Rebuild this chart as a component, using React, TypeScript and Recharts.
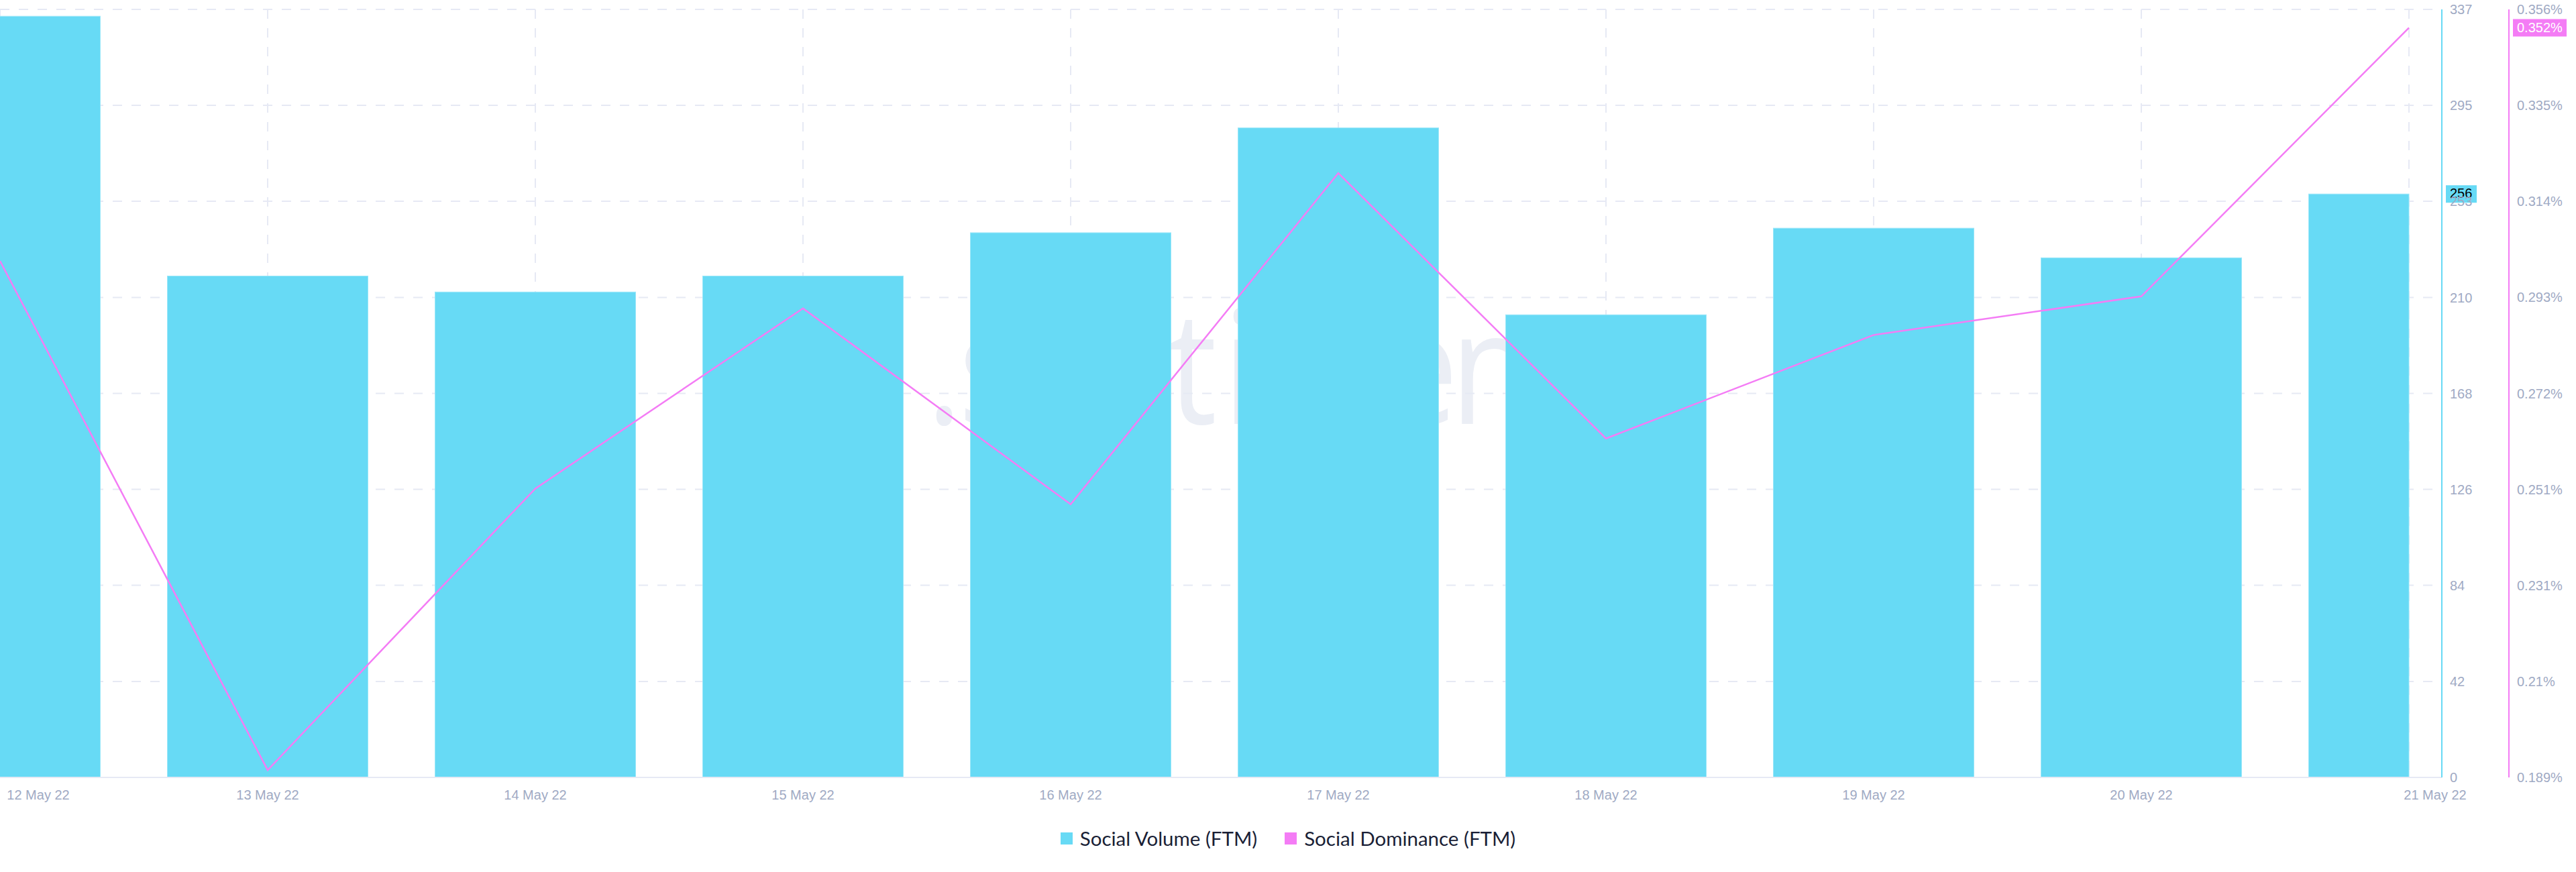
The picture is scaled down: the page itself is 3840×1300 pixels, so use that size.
import {
  Bar,
  CartesianGrid,
  ComposedChart,
  Legend,
  Line,
  ReferenceLine,
  XAxis,
  YAxis,
} from "recharts";

const dates = [
  "12 May 22",
  "13 May 22",
  "14 May 22",
  "15 May 22",
  "16 May 22",
  "17 May 22",
  "18 May 22",
  "19 May 22",
  "20 May 22",
  "21 May 22",
];
const socialVolume = [334, 220, 213, 220, 239, 285, 203, 241, 228, 256];
const socialDominance = [
  0.3013, 0.1906, 0.2518, 0.291, 0.2484, 0.3204, 0.2627, 0.2852, 0.2936, 0.352,
];

const volumeTicks = [0, 42.1, 84.3, 126.4, 168.5, 210.6, 252.8, 294.9, 337];
const volumeLabels = ["0", "42", "84", "126", "168", "210", "253", "295", "337"];
const dominanceTicks = [
  0.189, 0.2099, 0.2308, 0.2516, 0.2725, 0.2934, 0.3143, 0.3351, 0.356,
];
const dominanceLabels = [
  "0.189%", "0.21%", "0.231%", "0.251%", "0.272%", "0.293%", "0.314%", "0.335%", "0.356%",
];

const CYAN = "#67daf5";
const PINK = "#f47cf5";
const GRID = "#e6e9f4";
const MUTED = "#9faac4";
const AXIS_FONT = "'Liberation Sans', Arial, sans-serif";

const VOLUME_AXIS = "axis1";
const DOMINANCE_AXIS = "axis2";

// watermark logo is narrower than Open Sans, so each glyph gets its own x
const WATERMARK_SCALE = 0.86;
const watermarkGlyphX = [1381, 1429, 1520, 1625, 1742, 1823, 1880, 2060, 2162, 2300];

const data = dates.map((date, i) => ({
  date,
  volume: socialVolume[i],
  dominance: socialDominance[i],
}));

// first and last labels get pushed inside the plot like on the original
function DateTick({ x, y, index, payload }: any) {
  let tx = x;
  if (index === 0) tx = x + 57;
  if (index === dates.length - 1) tx = x + 39;
  return (
    <text x={tx} y={y + 20} textAnchor="middle" dominantBaseline="middle" fontSize={20} fontFamily={AXIS_FONT} fill={MUTED}>
      {payload.value}
    </text>
  );
}

// the last day is only half drawn, the series stops at its centre
function VolumeBar({ x, y, width, height, index }: any) {
  const w = index === dates.length - 1 ? width / 2 : width;
  return <rect x={x} y={y} width={w} height={height} fill={CYAN} stroke="#9be7f9" strokeWidth={1} />;
}

function Badge({ viewBox, text, fill, color, dx, w }: any) {
  const right = viewBox.x + viewBox.width;
  return (
    <g>
      <rect x={right + dx} y={viewBox.y - 13} width={w} height={26} fill={fill} />
      <text x={right + dx + 6} y={viewBox.y + 1} dominantBaseline="middle" fontSize={20} fontFamily={AXIS_FONT} fill={color}>
        {text}
      </text>
    </g>
  );
}

function ChartLegend({ payload }: any) {
  return (
    <div style={{ display: "flex", justifyContent: "center", alignItems: "center", height: 101, gap: 41 }}>
      {(payload ?? []).map((item: any) => (
        <div key={item.value} style={{ display: "flex", alignItems: "center", gap: 11 }}>
          <span style={{ width: 18, height: 18, background: item.color, display: "block" }} />
          <span style={{ fontFamily: "Lato", fontSize: 29.5, color: "#1a1f36" }}>{item.value}</span>
        </div>
      ))}
    </div>
  );
}

export default function App() {
  return (
    <div style={{ position: "relative", width: 3840, height: 1300 }}>
      <style>{`body{margin:0}`}</style>
      <svg width={3840} height={1300} style={{ position: "absolute", left: 0, top: 0 }}>
        <text
          transform={`scale(${WATERMARK_SCALE} 1)`}
          x={watermarkGlyphX.map((v) => v / WATERMARK_SCALE).join(" ")}
          y={632}
          fontSize={235}
          fontFamily="'Open Sans'"
          fill="#ebeef5"
        >
          .santiment
        </text>
      </svg>
      <div style={{ position: "absolute", left: 0, top: 0 }}>
        <ComposedChart width={3840} height={1300} data={data} margin={{ top: 14, right: 0, bottom: 0, left: 0 }}>
          <CartesianGrid yAxisId={VOLUME_AXIS} stroke={GRID} strokeWidth={2} strokeDasharray="14 14" />
          <XAxis
            dataKey="date"
            scale="point"
            padding={{ left: 0, right: 49 }}
            height={40}
            interval={0}
            tickLine={false}
            axisLine={{ stroke: GRID, strokeWidth: 2 }}
            tick={<DateTick />}
          />
          <YAxis
            yAxisId={VOLUME_AXIS}
            orientation="right"
            width={100}
            domain={[0, 337]}
            ticks={volumeTicks}
            interval={0}
            tickSize={0}
            tickMargin={12}
            axisLine={{ stroke: CYAN, strokeWidth: 2 }}
            tick={{ fontSize: 20, fontFamily: AXIS_FONT, fill: MUTED, textAnchor: "start" }}
            tickFormatter={(_: number, i: number) => volumeLabels[i]}
          />
          <YAxis
            yAxisId={DOMINANCE_AXIS}
            orientation="right"
            width={100}
            domain={[0.189, 0.356]}
            ticks={dominanceTicks}
            interval={0}
            tickSize={0}
            tickMargin={12}
            axisLine={{ stroke: PINK, strokeWidth: 2 }}
            tick={{ fontSize: 20, fontFamily: AXIS_FONT, fill: MUTED, textAnchor: "start" }}
            tickFormatter={(_: number, i: number) => dominanceLabels[i]}
          />
          <Bar
            yAxisId={VOLUME_AXIS}
            dataKey="volume"
            name="Social Volume (FTM)"
            fill={CYAN}
            barSize={299}
            shape={<VolumeBar />}
            isAnimationActive={false}
          />
          <Line
            yAxisId={DOMINANCE_AXIS}
            dataKey="dominance"
            name="Social Dominance (FTM)"
            type="linear"
            stroke={PINK}
            strokeWidth={2.5}
            dot={false}
            isAnimationActive={false}
          />
          <ReferenceLine
            yAxisId={VOLUME_AXIS}
            y={socialVolume[socialVolume.length - 1]}
            stroke="none"
            label={(props: any) => <Badge {...props} text="256" fill={CYAN} color="#000" dx={6} w={46} />}
          />
          <ReferenceLine
            yAxisId={DOMINANCE_AXIS}
            y={socialDominance[socialDominance.length - 1]}
            stroke="none"
            label={(props: any) => <Badge {...props} text="0.352%" fill={PINK} color="#fff" dx={106} w={80} />}
          />
          <Legend height={101} itemSorter={null} content={<ChartLegend />} />
        </ComposedChart>
      </div>
    </div>
  );
}
